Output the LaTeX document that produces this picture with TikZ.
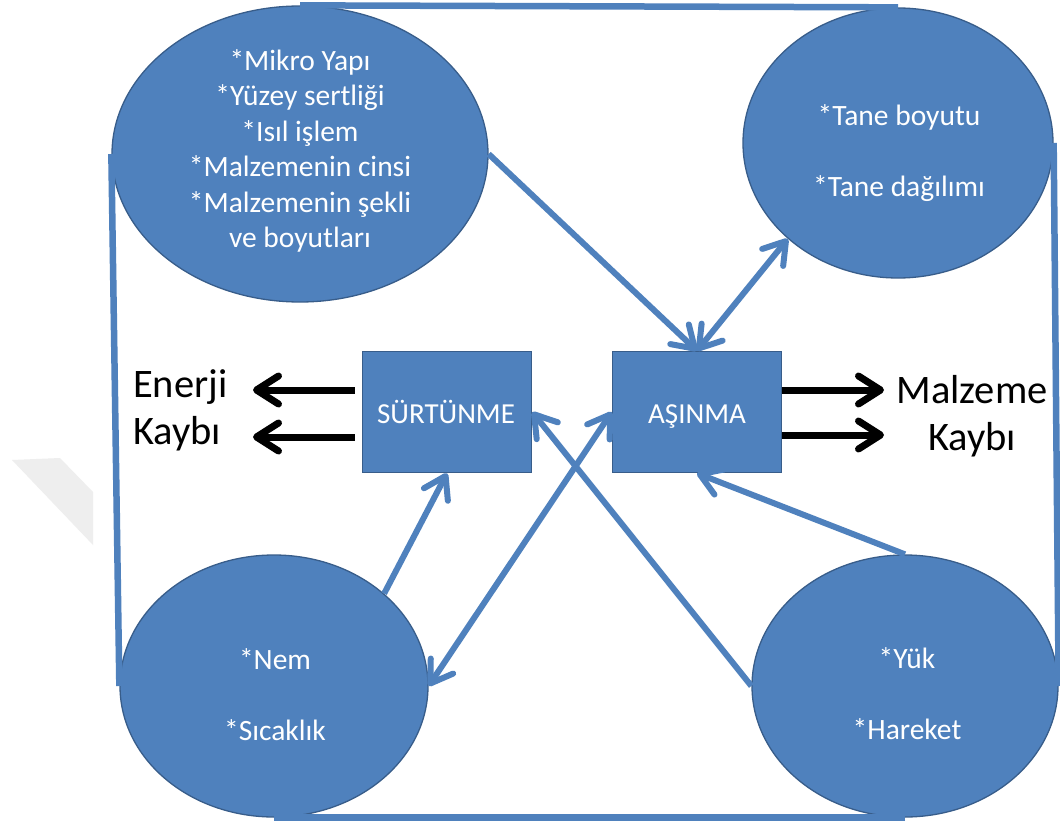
\documentclass[tikz,border=0pt]{standalone}
\usepackage{fontspec}
\setmainfont{Carlito}
\usetikzlibrary{shapes.geometric,arrows.meta,calc}
\definecolor{ofblue}{HTML}{4F81BD}
\definecolor{ofdark}{HTML}{385D8A}
\definecolor{wmark}{HTML}{EEEEEE}
\begin{document}
\begin{tikzpicture}[x=1pt,y=-1pt,
  ell/.style={ellipse, draw=ofdark, line width=1.3pt, fill=ofblue, inner sep=0pt},
  box/.style={rectangle, draw=ofdark, line width=1.5pt, fill=ofblue, inner sep=0pt,
    minimum width=169pt, minimum height=121pt},
  boxtxt/.style={text=white, inner sep=0pt, anchor=base, font=\fontsize{29}{34}\selectfont},
  etxt/.style={text=white, align=center, inner sep=0pt, font=\fontsize{29.5}{35.5}\selectfont},
  btxt/.style={text=black, inner sep=0pt, font=\fontsize{40.5}{47}\selectfont},
  frameline/.style={draw=ofblue, line width=6.5pt},
  barrow/.style={draw=ofblue, line width=6pt, -{Straight Barb[length=21pt,width=27pt,round]}},
  bdarrow/.style={draw=ofblue, line width=6pt, {Straight Barb[length=21pt,width=27pt,round]}-{Straight Barb[length=21pt,width=27pt,round]}},
  karrow/.style={draw=black, line width=7pt, -{Straight Barb[length=22pt,width=28pt,round]}}]
\fill[white] (0,0) rectangle (1060,824);
\path[use as bounding box] (0,0) rectangle (1060,824);
% faint watermark
\fill[wmark] (12,460) -- (60,458) -- (93,492) -- (93,545) -- cycle;

% ellipses
\node[ell, minimum width=376pt, minimum height=296pt] (TL) at (300,154) {};
\node[ell, minimum width=310pt, minimum height=270pt] (TR) at (898,143) {};
\node[ell, minimum width=308pt, minimum height=262pt] (BL) at (274,686) {};
\node[ell, minimum width=306pt, minimum height=262pt] (BR) at (905,686) {};

% frame lines
\draw[frameline] (TL.north) -- (TR.north);
\draw[frameline] (TR.east) -- (BR.east);
\draw[frameline] (BR.south) -- (BL.south);
\draw[frameline] (BL.west) -- (TL.west);

% texts in ellipses
\node[etxt] (TLt) at (300,151) {*Mikro Yapı\\*Yüzey sertliği\\*Isıl işlem\\*Malzemenin cinsi\\*Malzemenin şekli\\ve boyutları};
\node[etxt] (TRt) at (899,153) {*Tane boyutu\\[35.5pt]*Tane dağılımı};
\node[etxt] (BLt) at (275,695) {*Nem\\[35.5pt]*Sıcaklık};
\node[etxt] (BRt) at (907,694) {*Yük\\[35.5pt]*Hareket};

% boxes
\node[box] (SU) at (447,412) {};
\node[box] (AS) at (697,412) {};
\node[boxtxt] (SUt) at (446,423) {SÜRTÜNME};
\node[boxtxt] (ASt) at (697,423) {AŞINMA};

% blue connectors
\draw[barrow] (TL.east) -- (AS.north);
\draw[bdarrow] (AS.north) -- (TR.221);
\draw[barrow] (BL.40) -- (SU.south);
\draw[bdarrow] (BL.east) -- (AS.west);
\draw[barrow] (BR.west) -- (SU.east);
\draw[barrow] (BR.north) -- (AS.south);

% black arrows and labels
\coordinate (e1) at (253,390);
\coordinate (e2) at (253,437);
\coordinate (m1) at (884,390);
\coordinate (m2) at (884,435);
\draw[karrow] ([xshift=-7pt,yshift=22pt]SU.west) -- (e1);
\draw[karrow] ([xshift=-7pt,yshift=-25pt]SU.west) -- (e2);
\draw[karrow] ([yshift=22pt]AS.east) -- (m1);
\draw[karrow] ([yshift=-23pt]AS.east) -- (m2);

\node[btxt, anchor=west, align=left] (EK) at (133,410) {Enerji\\Kaybı};
\node[btxt, align=center] (MK) at (972,416) {Malzeme\\Kaybı};
\end{tikzpicture}
\end{document}
